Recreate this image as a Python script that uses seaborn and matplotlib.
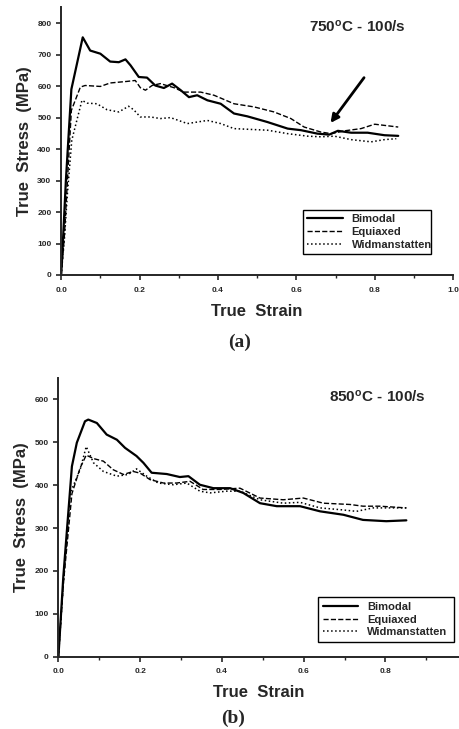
import numpy as np
import pandas as pd
import matplotlib
matplotlib.use("Agg")
import matplotlib.pyplot as plt
import seaborn as sns
from matplotlib.ticker import MultipleLocator

# 750C - 100/s
a_bim_x = [0, 0.005, 0.012, 0.026, 0.055, 0.074, 0.1, 0.125, 0.147, 0.164, 0.177, 0.198, 0.219, 0.24,
           0.262, 0.283, 0.305, 0.326, 0.347, 0.373, 0.407, 0.441, 0.475, 0.526, 0.578, 0.612,
           0.654, 0.684, 0.706, 0.74, 0.782, 0.825, 0.86]
a_bim_y = [0, 120, 300, 590, 755, 713, 703, 678, 676, 685, 666, 629, 627, 602,
           594, 608, 587, 565, 571, 555, 544, 513, 504, 486, 465, 460,
           449, 446, 458, 452, 452, 444, 442]
a_equ_x = [0, 0.008, 0.016, 0.026, 0.049, 0.061, 0.1, 0.125, 0.168, 0.189, 0.202, 0.215, 0.232,
           0.253, 0.288, 0.313, 0.356, 0.39, 0.441, 0.492, 0.543, 0.586, 0.62, 0.663, 0.689,
           0.723, 0.765, 0.8, 0.86]
a_equ_y = [0, 120, 300, 523, 597, 602, 599, 610, 615, 618, 595, 587, 602,
           608, 595, 581, 581, 571, 544, 534, 518, 497, 470, 454, 449,
           458, 465, 479, 470]
a_wid_x = [0, 0.008, 0.016, 0.027, 0.053, 0.066, 0.091, 0.117, 0.147, 0.172, 0.185, 0.202, 0.228,
           0.253, 0.279, 0.322, 0.373, 0.407, 0.441, 0.492, 0.526, 0.578, 0.629, 0.663, 0.697,
           0.74, 0.791, 0.825, 0.855]
a_wid_y = [0, 110, 260, 428, 555, 546, 544, 525, 518, 536, 525, 502, 502,
           497, 500, 481, 491, 481, 465, 462, 460, 449, 441, 439, 441,
           430, 423, 430, 433]

# 850C - 100/s
b_bim_x = [0, 0.012, 0.033, 0.045, 0.065, 0.073, 0.094, 0.118, 0.143, 0.163, 0.191, 0.208, 0.228,
           0.265, 0.297, 0.318, 0.346, 0.379, 0.42, 0.452, 0.493, 0.534, 0.591, 0.64, 0.697,
           0.745, 0.802, 0.851]
b_bim_y = [0, 187, 444, 499, 549, 553, 545, 518, 506, 487, 468, 452, 429,
           426, 419, 421, 401, 393, 393, 382, 358, 351, 351, 339, 331,
           319, 316, 318]
b_equ_x = [0, 0.012, 0.033, 0.053, 0.068, 0.086, 0.11, 0.134, 0.159, 0.183, 0.2, 0.224, 0.257,
           0.289, 0.322, 0.354, 0.395, 0.444, 0.493, 0.55, 0.599, 0.648, 0.713, 0.745, 0.786,
           0.851]
b_equ_y = [0, 170, 380, 440, 470, 462, 456, 436, 425, 432, 428, 413, 405,
           405, 409, 390, 390, 393, 370, 366, 370, 358, 355, 351, 351,
           347]
b_wid_x = [0, 0.012, 0.029, 0.053, 0.068, 0.086, 0.11, 0.143, 0.171, 0.191, 0.216, 0.244, 0.281,
           0.314, 0.346, 0.371, 0.411, 0.444, 0.493, 0.55, 0.591, 0.64, 0.688, 0.729, 0.77,
           0.851]
b_wid_y = [0, 170, 382, 436, 490, 452, 432, 421, 425, 438, 421, 405, 401,
           405, 386, 382, 386, 386, 366, 358, 360, 347, 343, 339, 347,
           347]

labels = ["Bimodal", "Equiaxed", "Widmanstatten"]
styles = [("-", 1.6), ("--", 1.0), (":", 1.1)]

sns.set_style("ticks")
plt.rcParams["font.family"] = ["Liberation Sans", "DejaVu Sans"]
plt.rcParams["font.weight"] = "bold"

fig = plt.figure(figsize=(4.6, 7.29), dpi=100)
ax1 = fig.add_axes([0.133, 0.6228, 0.852, 0.367])
ax2 = fig.add_axes([0.127, 0.0992, 0.871, 0.3823])


def draw(ax, series, ylim, xlim, ytick, title, tx, ty, leg_box):
    for (xs, ys), lab, (ls, lw) in zip(series, labels, styles):
        df = pd.DataFrame({"strain": xs, "stress": ys})
        sns.lineplot(data=df, x="strain", y="stress", ax=ax, color="black",
                     linestyle=ls, linewidth=lw, label=lab, sort=False)
    ax.set_xlim(*xlim)
    ax.set_ylim(*ylim)
    ax.xaxis.set_major_locator(MultipleLocator(0.2))
    ax.xaxis.set_minor_locator(MultipleLocator(0.1))
    ax.yaxis.set_major_locator(MultipleLocator(ytick))
    ax.set_xticklabels([f"{v:.1f}" for v in ax.get_xticks()])
    ax.tick_params(axis="both", which="major", labelsize=6, length=3.5, width=1.2, direction="out")
    ax.tick_params(axis="x", which="major", pad=5)
    ax.tick_params(axis="x", which="minor", length=2, width=1)
    for lab in ax.get_xticklabels() + ax.get_yticklabels():
        lab.set_fontweight("bold")
    for s in ["left", "bottom"]:
        ax.spines[s].set_linewidth(1.4)
    sns.despine(ax=ax)
    ax.set_xlabel("True  Strain", fontsize=12, fontweight="bold", labelpad=7)
    ax.set_ylabel("True  Stress  (MPa)", fontsize=12, fontweight="bold", labelpad=4)
    ax.text(tx, ty, title, fontsize=11, fontweight="bold", ha="center", va="center")
    leg = ax.legend(loc="lower left", bbox_to_anchor=leg_box, bbox_transform=fig.transFigure,
                    mode="expand", fancybox=False, edgecolor="black", framealpha=1,
                    prop={"size": 8, "weight": "bold"}, handlelength=3.2, borderpad=0.4,
                    labelspacing=0.25)
    leg.get_frame().set_linewidth(1.0)


draw(ax1, [(a_bim_x, a_bim_y), (a_equ_x, a_equ_y), (a_wid_x, a_wid_y)],
     (0, 850), (0, 1.0), 100, "750$\\mathregular{^{o}}$C - 100/s", 0.755, 790,
     (0.646, 0.644, 0.304, 0.073))
draw(ax2, [(b_bim_x, b_bim_y), (b_equ_x, b_equ_y), (b_wid_x, b_wid_y)],
     (0, 650), (0, 0.98), 100, "850$\\mathregular{^{o}}$C - 100/s", 0.78, 607,
     (0.68, 0.112, 0.318, 0.074))

ax1.annotate("", xy=(0.683, 476), xytext=(0.777, 634),
             arrowprops=dict(arrowstyle="-|>", color="black", lw=2, mutation_scale=12))

fig.text(240 / 460, 1 - 342 / 729, "(a)", fontsize=14, fontweight="bold",
         family="Liberation Serif", ha="center", va="center")
fig.text(233 / 460, 1 - 718 / 729, "(b)", fontsize=14, fontweight="bold",
         family="Liberation Serif", ha="center", va="center")

fig.savefig("out.png", dpi=100)
